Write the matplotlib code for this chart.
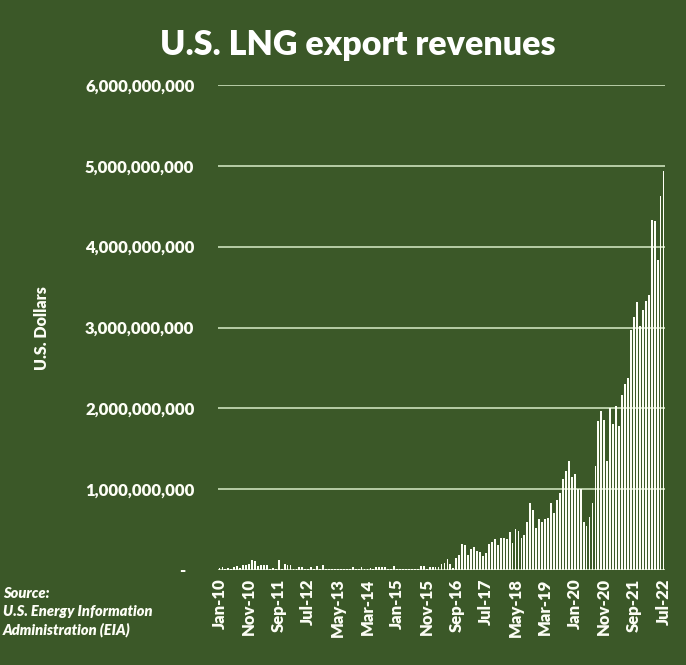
"""U.S. LNG export revenues, monthly bar chart."""

import matplotlib
matplotlib.use('Agg')
import matplotlib.pyplot as plt
from matplotlib.ticker import FuncFormatter

# monthly revenues Jan-10 .. Jul-22, in millions of dollars
early_musd = [20, 33, 16, 29, 12, 33, 50, 20, 62, 62, 74, 124, 111, 50, 58, 62, 62, 12,
              29, 8, 124, 16, 74, 58, 58, 16, 8, 33, 33, 12, 16, 33, 8, 50, 8, 62, 16,
              10, 10, 10, 10, 10, 10, 10, 10, 33, 12, 12, 33, 12, 16, 25, 8, 33, 33, 33,
              33, 8, 12, 50, 16, 8, 8, 8, 8, 8, 8, 8, 50, 50, 8, 33, 33, 33]
# Mar-16 onward, in billions of dollars
late_busd = [0.04, 0.07, 0.09, 0.14, 0.07, 0.02, 0.15, 0.19, 0.32, 0.31, 0.19, 0.26, 0.28,
             0.24, 0.22, 0.17, 0.21, 0.32, 0.35, 0.38, 0.31, 0.40, 0.39, 0.38, 0.47, 0.33,
             0.51, 0.48, 0.39, 0.43, 0.59, 0.83, 0.74, 0.52, 0.63, 0.60, 0.63, 0.64,
             0.83, 0.70, 0.86, 0.95, 1.12, 1.23, 1.35, 1.15, 1.19, 1.00, 1.00, 0.59, 0.55,
             0.66, 0.83, 1.29, 1.84, 1.97, 1.86, 1.35, 2.00, 1.81, 2.03, 1.78, 2.17, 2.30,
             2.37, 2.97, 3.13, 3.32, 3.02, 3.22, 3.33, 3.40, 4.33, 4.32, 3.83, 4.63, 4.94]

tick_labels = ['Jan-10', 'Nov-10', 'Sep-11', 'Jul-12', 'May-13', 'Mar-14', 'Jan-15', 'Nov-15',
               'Sep-16', 'Jul-17', 'May-18', 'Mar-19', 'Jan-20', 'Nov-20', 'Sep-21', 'Jul-22']

revenues = [v * 1e6 for v in early_musd] + [v * 1e9 for v in late_busd]
months = list(range(len(revenues)))

bg = '#3b5828'
fg = '#fdfef6'
plt.rcParams['font.family'] = ['Lato', 'DejaVu Sans']

fig = plt.figure(figsize=(6.86, 6.65), dpi=100, facecolor=bg)
ax = fig.add_axes([218 / 686, 1 - 570 / 665, 447 / 686, 485 / 665])
ax.set_facecolor(bg)

ax.bar(months, revenues, width=0.62, color=fg, zorder=3)

ax.set_xlim(-0.5, len(revenues) - 0.5)
ax.set_ylim(0, 6e9)
ax.set_yticks([i * 1e9 for i in range(7)])
ax.yaxis.set_major_formatter(FuncFormatter(lambda v, p: '-  ' if v == 0 else '{:,.0f}'.format(v)))
ax.set_xticks(months[::10])
ax.set_xticklabels(tick_labels, rotation=90)
ax.grid(axis='y', color='#d8ecc8', linewidth=1.1, zorder=0)
ax.tick_params(axis='y', length=0, pad=17, labelsize=12, labelcolor=fg)
ax.tick_params(axis='x', length=0, pad=6, labelsize=12, labelcolor=fg)
for lab in ax.get_xticklabels() + ax.get_yticklabels():
    lab.set_fontweight('heavy')
for s in ax.spines.values():
    s.set_visible(False)

fig.text(358 / 686, 1 - 45 / 665, 'U.S. LNG export revenues', ha='center', va='center',
         fontsize=24.5, fontweight='heavy', color='white')
fig.text(42 / 686, 1 - 328 / 665, 'U.S. Dollars', rotation=90, ha='center', va='center',
         fontsize=11.5, fontweight='heavy', color=fg)
fig.text(3 / 686, 1 - 612 / 665, 'Source:\nU.S. Energy Information\nAdministration (EIA)',
         ha='left', va='center', fontsize=10.5, fontweight='heavy', style='italic',
         color=fg, linespacing=1.4)

fig.savefig('out.png', dpi=100, facecolor=bg)
